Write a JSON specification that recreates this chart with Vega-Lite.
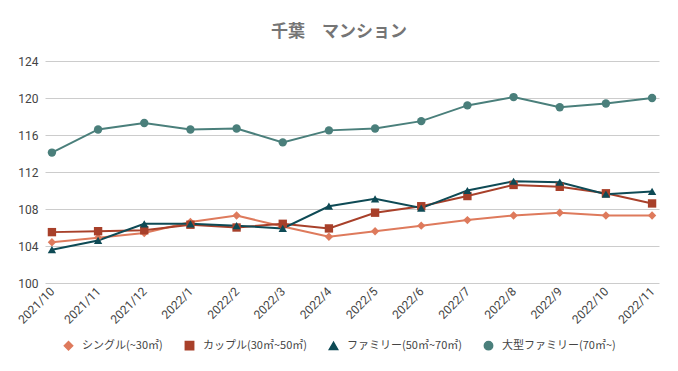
{
  "$schema": "https://vega.github.io/schema/vega-lite/v6.json",
  "width": 614,
  "height": 222,
  "autosize": {"type": "none"},
  "padding": {"left": 45, "top": 61, "right": 19, "bottom": 88},
  "background": "white",
  "title": {"text": "千葉　マンション", "font": "Noto Sans CJK JP", "fontSize": 17, "fontWeight": "bold", "color": "#757575", "anchor": "middle", "dx": -13, "offset": 14},
  "config": {"view": {"stroke": null}, "font": "Noto Sans CJK JP"},
  "data": {"values": [
    {"m": "2021/10", "s": "シングル(~30㎡)", "v": 104.4},
    {"m": "2021/11", "s": "シングル(~30㎡)", "v": 104.9},
    {"m": "2021/12", "s": "シングル(~30㎡)", "v": 105.4},
    {"m": "2022/1", "s": "シングル(~30㎡)", "v": 106.6},
    {"m": "2022/2", "s": "シングル(~30㎡)", "v": 107.3},
    {"m": "2022/3", "s": "シングル(~30㎡)", "v": 106.1},
    {"m": "2022/4", "s": "シングル(~30㎡)", "v": 105.0},
    {"m": "2022/5", "s": "シングル(~30㎡)", "v": 105.6},
    {"m": "2022/6", "s": "シングル(~30㎡)", "v": 106.2},
    {"m": "2022/7", "s": "シングル(~30㎡)", "v": 106.8},
    {"m": "2022/8", "s": "シングル(~30㎡)", "v": 107.3},
    {"m": "2022/9", "s": "シングル(~30㎡)", "v": 107.6},
    {"m": "2022/10", "s": "シングル(~30㎡)", "v": 107.3},
    {"m": "2022/11", "s": "シングル(~30㎡)", "v": 107.3},
    {"m": "2021/10", "s": "カップル(30㎡~50㎡)", "v": 105.5},
    {"m": "2021/11", "s": "カップル(30㎡~50㎡)", "v": 105.6},
    {"m": "2021/12", "s": "カップル(30㎡~50㎡)", "v": 105.7},
    {"m": "2022/1", "s": "カップル(30㎡~50㎡)", "v": 106.3},
    {"m": "2022/2", "s": "カップル(30㎡~50㎡)", "v": 106.0},
    {"m": "2022/3", "s": "カップル(30㎡~50㎡)", "v": 106.4},
    {"m": "2022/4", "s": "カップル(30㎡~50㎡)", "v": 105.9},
    {"m": "2022/5", "s": "カップル(30㎡~50㎡)", "v": 107.6},
    {"m": "2022/6", "s": "カップル(30㎡~50㎡)", "v": 108.3},
    {"m": "2022/7", "s": "カップル(30㎡~50㎡)", "v": 109.4},
    {"m": "2022/8", "s": "カップル(30㎡~50㎡)", "v": 110.6},
    {"m": "2022/9", "s": "カップル(30㎡~50㎡)", "v": 110.4},
    {"m": "2022/10", "s": "カップル(30㎡~50㎡)", "v": 109.7},
    {"m": "2022/11", "s": "カップル(30㎡~50㎡)", "v": 108.6},
    {"m": "2021/10", "s": "ファミリー(50㎡~70㎡)", "v": 103.6},
    {"m": "2021/11", "s": "ファミリー(50㎡~70㎡)", "v": 104.6},
    {"m": "2021/12", "s": "ファミリー(50㎡~70㎡)", "v": 106.4},
    {"m": "2022/1", "s": "ファミリー(50㎡~70㎡)", "v": 106.4},
    {"m": "2022/2", "s": "ファミリー(50㎡~70㎡)", "v": 106.2},
    {"m": "2022/3", "s": "ファミリー(50㎡~70㎡)", "v": 105.9},
    {"m": "2022/4", "s": "ファミリー(50㎡~70㎡)", "v": 108.3},
    {"m": "2022/5", "s": "ファミリー(50㎡~70㎡)", "v": 109.1},
    {"m": "2022/6", "s": "ファミリー(50㎡~70㎡)", "v": 108.1},
    {"m": "2022/7", "s": "ファミリー(50㎡~70㎡)", "v": 110.0},
    {"m": "2022/8", "s": "ファミリー(50㎡~70㎡)", "v": 111.0},
    {"m": "2022/9", "s": "ファミリー(50㎡~70㎡)", "v": 110.9},
    {"m": "2022/10", "s": "ファミリー(50㎡~70㎡)", "v": 109.6},
    {"m": "2022/11", "s": "ファミリー(50㎡~70㎡)", "v": 109.9},
    {"m": "2021/10", "s": "大型ファミリー(70㎡~)", "v": 114.1},
    {"m": "2021/11", "s": "大型ファミリー(70㎡~)", "v": 116.6},
    {"m": "2021/12", "s": "大型ファミリー(70㎡~)", "v": 117.3},
    {"m": "2022/1", "s": "大型ファミリー(70㎡~)", "v": 116.6},
    {"m": "2022/2", "s": "大型ファミリー(70㎡~)", "v": 116.7},
    {"m": "2022/3", "s": "大型ファミリー(70㎡~)", "v": 115.2},
    {"m": "2022/4", "s": "大型ファミリー(70㎡~)", "v": 116.5},
    {"m": "2022/5", "s": "大型ファミリー(70㎡~)", "v": 116.7},
    {"m": "2022/6", "s": "大型ファミリー(70㎡~)", "v": 117.5},
    {"m": "2022/7", "s": "大型ファミリー(70㎡~)", "v": 119.2},
    {"m": "2022/8", "s": "大型ファミリー(70㎡~)", "v": 120.1},
    {"m": "2022/9", "s": "大型ファミリー(70㎡~)", "v": 119.0},
    {"m": "2022/10", "s": "大型ファミリー(70㎡~)", "v": 119.4},
    {"m": "2022/11", "s": "大型ファミリー(70㎡~)", "v": 120.0}
  ]},
  "encoding": {
    "x": {"field": "m", "type": "ordinal", "sort": null, "scale": {"type": "point", "padding": 0.15},
      "axis": {"title": null, "labelAngle": -45, "labelAlign": "right", "labelBaseline": "middle", "labelFontSize": 12, "labelColor": "#444444", "ticks": false, "domain": false, "grid": false, "labelPadding": 6, "labelFont": "Roboto"}},
    "y": {"field": "v", "type": "quantitative", "scale": {"domain": [100, 124], "nice": false, "zero": false},
      "axis": {"title": null, "values": [100, 104, 108, 112, 116, 120, 124], "ticks": false, "domain": false, "gridColor": "#cccccc", "labelFontSize": 12, "labelColor": "#444444", "labelPadding": 7, "labelFont": "Roboto"}},
    "color": {"field": "s", "type": "nominal", "sort": null,
      "scale": {"domain": ["シングル(~30㎡)", "カップル(30㎡~50㎡)", "ファミリー(50㎡~70㎡)", "大型ファミリー(70㎡~)"], "range": ["#de7a5c", "#a8402a", "#0e4a55", "#4a7f7b"]},
      "legend": {"title": null, "orient": "none", "legendX": 18, "legendY": 279, "direction": "horizontal", "labelFontSize": 11, "labelColor": "#444444", "columnPadding": 19, "symbolSize": 90, "labelOffset": 8, "labelFont": "Noto Sans CJK JP"}}
  },
  "layer": [
    {"mark": {"type": "line", "strokeWidth": 2}},
    {"mark": {"type": "point", "filled": true, "opacity": 1},
      "encoding": {
        "shape": {"field": "s", "type": "nominal", "sort": null,
          "scale": {"domain": ["シングル(~30㎡)", "カップル(30㎡~50㎡)", "ファミリー(50㎡~70㎡)", "大型ファミリー(70㎡~)"], "range": ["diamond", "square", "triangle-up", "circle"]},
          "legend": {"title": null, "orient": "none", "legendX": 18, "legendY": 279, "direction": "horizontal", "labelFontSize": 11, "labelColor": "#444444", "columnPadding": 19, "symbolSize": 90, "labelOffset": 8, "labelFont": "Noto Sans CJK JP"}},
        "size": {"field": "s", "type": "nominal", "sort": null, "legend": null,
          "scale": {"domain": ["シングル(~30㎡)", "カップル(30㎡~50㎡)", "ファミリー(50㎡~70㎡)", "大型ファミリー(70㎡~)"], "range": [70, 70, 70, 130]}}
      }}
  ]
}
